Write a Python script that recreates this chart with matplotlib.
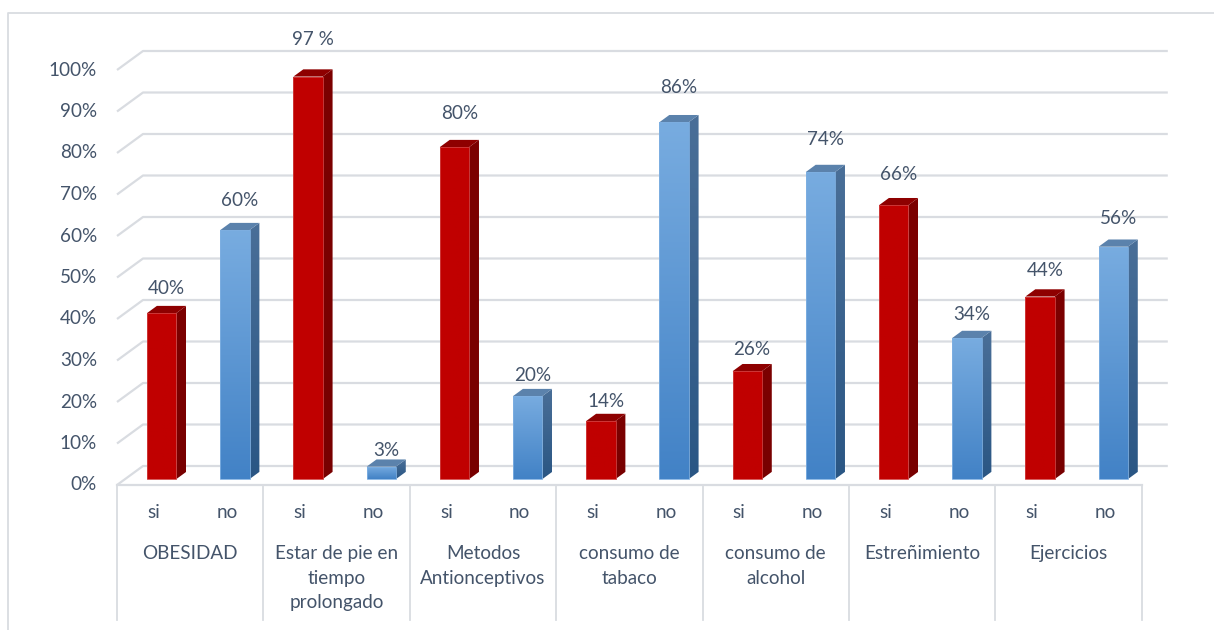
import numpy as np
import matplotlib.pyplot as plt
from matplotlib.patches import Polygon
from matplotlib.colors import LinearSegmentedColormap

categories = ["OBESIDAD", "Estar de pie en\ntiempo\nprolongado", "Metodos\nAntionceptivos",
              "consumo de\ntabaco", "consumo de\nalcohol", "Estreñimiento", "Ejercicios"]
sub_labels = ["si", "no"]
si_vals = [40, 97, 80, 14, 26, 66, 44]
no_vals = [60, 3, 20, 86, 74, 34, 56]
si_text = ["40%", "97 %", "80%", "14%", "26%", "66%", "44%"]
no_text = ["60%", "3%", "20%", "86%", "74%", "34%", "56%"]
pct_ticks = list(range(0, 101, 10))

plt.rcParams['font.family'] = ['Lato', 'DejaVu Sans']
txt_c = '#44546A'
grid_c = '#D9DCE1'
fs = 13.6

W, H = 1214, 630
fig = plt.figure(figsize=(W / 100, H / 100), dpi=100)
ax = fig.add_axes([0, 0, 1, 1])

# one x unit = one bar slot, one y unit = 1 %
slot_px, pct_px = 73.2, 4.15
x0_px, y0_px = 117, 485
xlim = (-x0_px / slot_px, (W - x0_px) / slot_px)
ylim = ((y0_px - H) / pct_px, y0_px / pct_px)

# 3d depth of the floor and of the bars
depth_x, depth_y = 26 / slot_px, 19 / pct_px
f_front, f_back = 0.31, 0.69
bar_w = 0.4
n_slots = 2 * len(categories)

# back wall gridlines + side wall diagonals
for t in pct_ticks:
    ax.plot([0, depth_x, n_slots + depth_x], [t, t + depth_y, t + depth_y],
            color=grid_c, lw=1.6, zorder=1, solid_capstyle='butt')
    ax.text(-20 / slot_px, t, f"{t}%", ha='right', va='center', color=txt_c, fontsize=fs)

# floor front edge and category dividers
ax.plot([0, n_slots], [0, 0], color=grid_c, lw=1.6, zorder=1)
for k in range(len(categories) + 1):
    ax.plot([2 * k, 2 * k], [0, -32.5], color=grid_c, lw=1.3, zorder=1)

# chart area frame (left + top)
fx, fy = (8 - x0_px) / slot_px, (y0_px - 13) / pct_px
ax.plot([fx, fx, xlim[1] + 1], [ylim[0] - 1, fy, fy], color=grid_c, lw=1.3, clip_on=False)

blue_front = LinearSegmentedColormap.from_list('bf', ['#4282C6', '#78ACE0'])
blue_side = LinearSegmentedColormap.from_list('bs', ['#2A5684', '#4A6F98'])
red_front = LinearSegmentedColormap.from_list('rf', ['#C00000', '#C00000'])
red_side = LinearSegmentedColormap.from_list('rs', ['#780000', '#7C0000'])
grad = np.linspace(0, 1, 128).reshape(-1, 1)


def gradient_poly(pts, cmap, z):
    pts = np.array(pts)
    poly = Polygon(pts, closed=True, transform=ax.transData)
    im = ax.imshow(grad, cmap=cmap, origin='lower', aspect='auto', zorder=z,
                   extent=[pts[:, 0].min(), pts[:, 0].max(), pts[:, 1].min(), pts[:, 1].max()])
    im.set_clip_path(poly)


def draw_bar(slot, v, label, front_cmap, side_cmap, top_c, edge_c):
    dx0, dy0 = f_front * depth_x, f_front * depth_y
    ddx, ddy = (f_back - f_front) * depth_x, (f_back - f_front) * depth_y
    xl = slot + 0.5 - bar_w / 2 + dx0
    xr = xl + bar_w
    yb, yt = dy0, dy0 + v
    gradient_poly([(xl, yb), (xr, yb), (xr, yt), (xl, yt)], front_cmap, 3)
    ax.add_patch(Polygon([(xl, yb), (xr, yb), (xr, yt), (xl, yt)], closed=True,
                         fill=False, ec=edge_c, lw=0.6, zorder=3.5))
    gradient_poly([(xr, yb), (xr + ddx, yb + ddy), (xr + ddx, yt + ddy), (xr, yt)], side_cmap, 3)
    ax.add_patch(Polygon([(xl, yt), (xl + ddx, yt + ddy), (xr + ddx, yt + ddy), (xr, yt)],
                         closed=True, fc=top_c, ec='none', zorder=3))
    off = (16 + 0.22 * v) / pct_px
    ax.text(xl + (bar_w + ddx) / 2, yt + off, label, ha='center', va='center',
            color=txt_c, fontsize=fs, zorder=5)


for i in range(len(categories)):
    draw_bar(2 * i, si_vals[i], si_text[i], red_front, red_side, '#8E0000', '#D04040')
    draw_bar(2 * i + 1, no_vals[i], no_text[i], blue_front, blue_side, '#5B82AC', '#7FB0E2')
    for j, s in enumerate(sub_labels):
        ax.text(2 * i + j + 0.5, -28 / pct_px, s, ha='center', va='center', color=txt_c, fontsize=fs)
    ax.text(2 * i + 1, -60 / pct_px, categories[i], ha='center', va='top', color=txt_c,
            fontsize=fs, linespacing=1.55, multialignment='center')

ax.set_xlim(*xlim)
ax.set_ylim(*ylim)
ax.axis('off')
fig.savefig('out.png', dpi=100)
